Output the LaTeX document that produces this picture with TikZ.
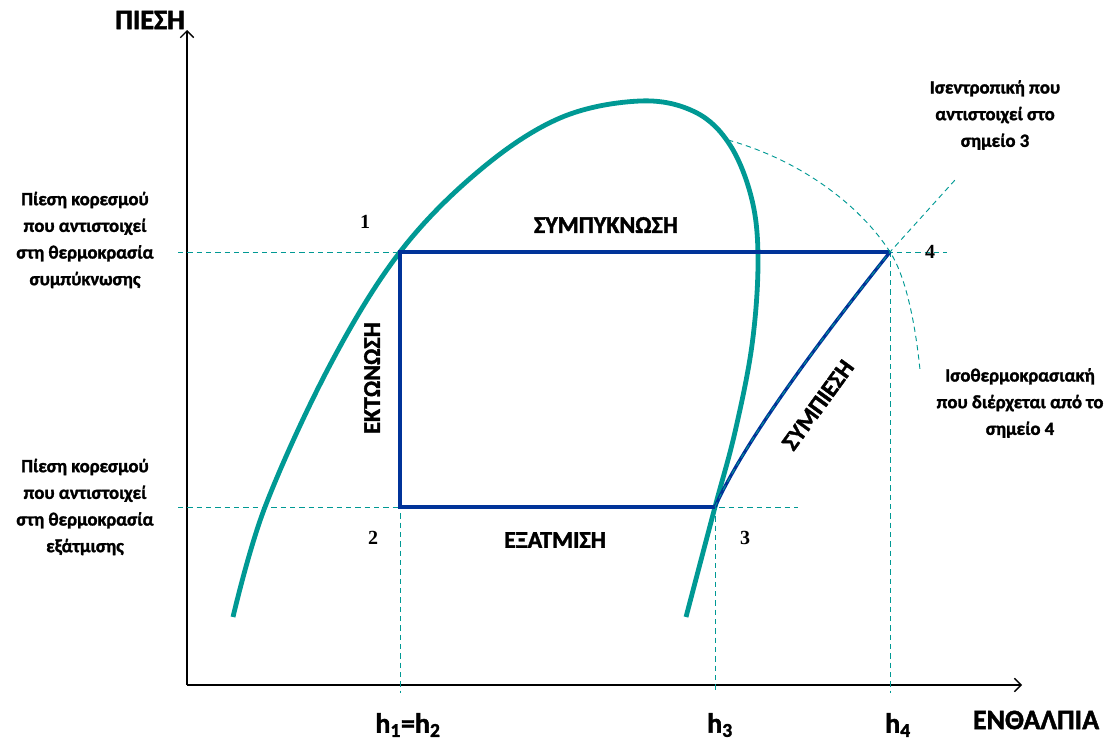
\documentclass[tikz,border=0pt]{standalone}
\usepackage{fontspec}
\setmainfont{Carlito}[BoldFont={Carlito Bold}, BoldFeatures={FakeBold=1.6}]
\newfontfamily\serifnum{Liberation Serif}
\usetikzlibrary{arrows.meta, positioning}
\definecolor{domeTeal}{RGB}{0,153,148}
\definecolor{cycleBlue}{RGB}{0,51,153}

\begin{document}
\begin{tikzpicture}[
    x=0.75pt, y=-0.75pt,
    axis/.style={-{Straight Barb[length=5pt, width=10pt]}, line width=1pt},
    dome/.style={draw=domeTeal, line width=3.6pt},
    cyc/.style={draw=cycleBlue, line width=2.5pt},
    guide/.style={draw=domeTeal, line width=0.7pt, dash pattern=on 4pt off 3pt},
    note/.style={font=\bfseries\fontsize{14}{20}\selectfont, align=center},
    axlabel/.style={font=\bfseries\fontsize{21}{24}\selectfont},
    point/.style={font=\serifnum\bfseries\fontsize{15}{17}\selectfont},
    process/.style={font=\bfseries\fontsize{18}{20}\selectfont}
]
\useasboundingbox (0,0) rectangle (1118,746);

% Axes
\coordinate (O) at (187,685);
\coordinate (ytop) at (187,30);
\coordinate (xend) at (1022,685);
\draw[axis] (O) -- (ytop);
\draw[axis] (O) -- (xend);
\node[axlabel] (pres) at (150,20) {ΠΙΕΣΗ};
\node[axlabel] (enth) at (1036,720) {ΕΝΘΑΛΠΙΑ};

% Cycle points
\coordinate (p1) at (400,252);
\coordinate (p2) at (400,507);
\coordinate (p3) at (715,507);
\coordinate (p4) at (890,252);

% Saturation dome
\draw[dome] plot[smooth, tension=0.6] coordinates {(233,617) (265,507) (330,365) (400,252)
    (480,170) (560,118) (640,101) (695,112) (730,145) (752,200) (758,262)
    (752,345) (735,432) (715,507) (686,617)};

% Guide lines
\coordinate (l1) at (178,252);
\coordinate (r1) at (947,252);
\coordinate (l2) at (178,507);
\coordinate (r2) at (798,507);
\coordinate (b1) at (400,693);
\coordinate (b3) at (715,693);
\coordinate (b4) at (890,693);
\draw[guide] (l1) -- (r1);
\draw[guide] (l2) -- (r2);
\draw[guide] (p1) -- (b1);
\draw[guide] (p3) -- (b3);
\draw[guide] (p4) -- (b4);

% Refrigeration cycle
\draw[cyc] (p3) -- (p2) -- (p1) -- (p4);
\draw[cyc] (p3) .. controls (745,440) and (820,340) .. (p4);

% Isentropic and isotherm
\coordinate (isen) at (955,180);
\coordinate (isoA) at (728,140);
\coordinate (isoB) at (920,370);
\draw[guide] (p3) .. controls (745,440) and (820,340) .. (p4) -- (isen);
\draw[guide] (isoA) .. controls (800,160) and (860,205) .. (p4)
    .. controls (905,275) and (915,320) .. (isoB);

% Point labels
\node[point] (n1) at (365,222) {1};
\node[point] (n2) at (373,538) {2};
\node[point] (n3) at (745,538) {3};
\node[point] (n4) at (930,252) {4};

% Process labels
\node[process] (cond) at (606,225) {ΣΥΜΠΥΚΝΩΣΗ};
\node[process] (evap) at (555,540) {ΕΞΑΤΜΙΣΗ};
\node[process, rotate=90] (expn) at (372,378) {ΕΚΤΩΝΩΣΗ};
\node[process, rotate=54] (comp) at (818,405) {ΣΥΜΠΙΕΣΗ};

% Notes
\node[note] (pcond) at (85,240) {Πίεση κορεσμού\\που αντιστοιχεί\\στη θερμοκρασία\\συμπύκνωσης};
\node[note] (pevap) at (85,507) {Πίεση κορεσμού\\που αντιστοιχεί\\στη θερμοκρασία\\εξάτμισης};
\node[note] (isennote) at (995,115) {Ισεντροπική που\\αντιστοιχεί στο\\σημείο 3};
\node[note] (isonote) at (1020,403) {Ισοθερμοκρασιακή\\που διέρχεται από το\\σημείο 4};

% Enthalpy ticks
\node[axlabel] (h12) at (408,725) {h\textsubscript{1}=h\textsubscript{2}};
\node[axlabel] (h3) at (720,725) {h\textsubscript{3}};
\node[axlabel] (h4) at (898,725) {h\textsubscript{4}};

\end{tikzpicture}
\end{document}
